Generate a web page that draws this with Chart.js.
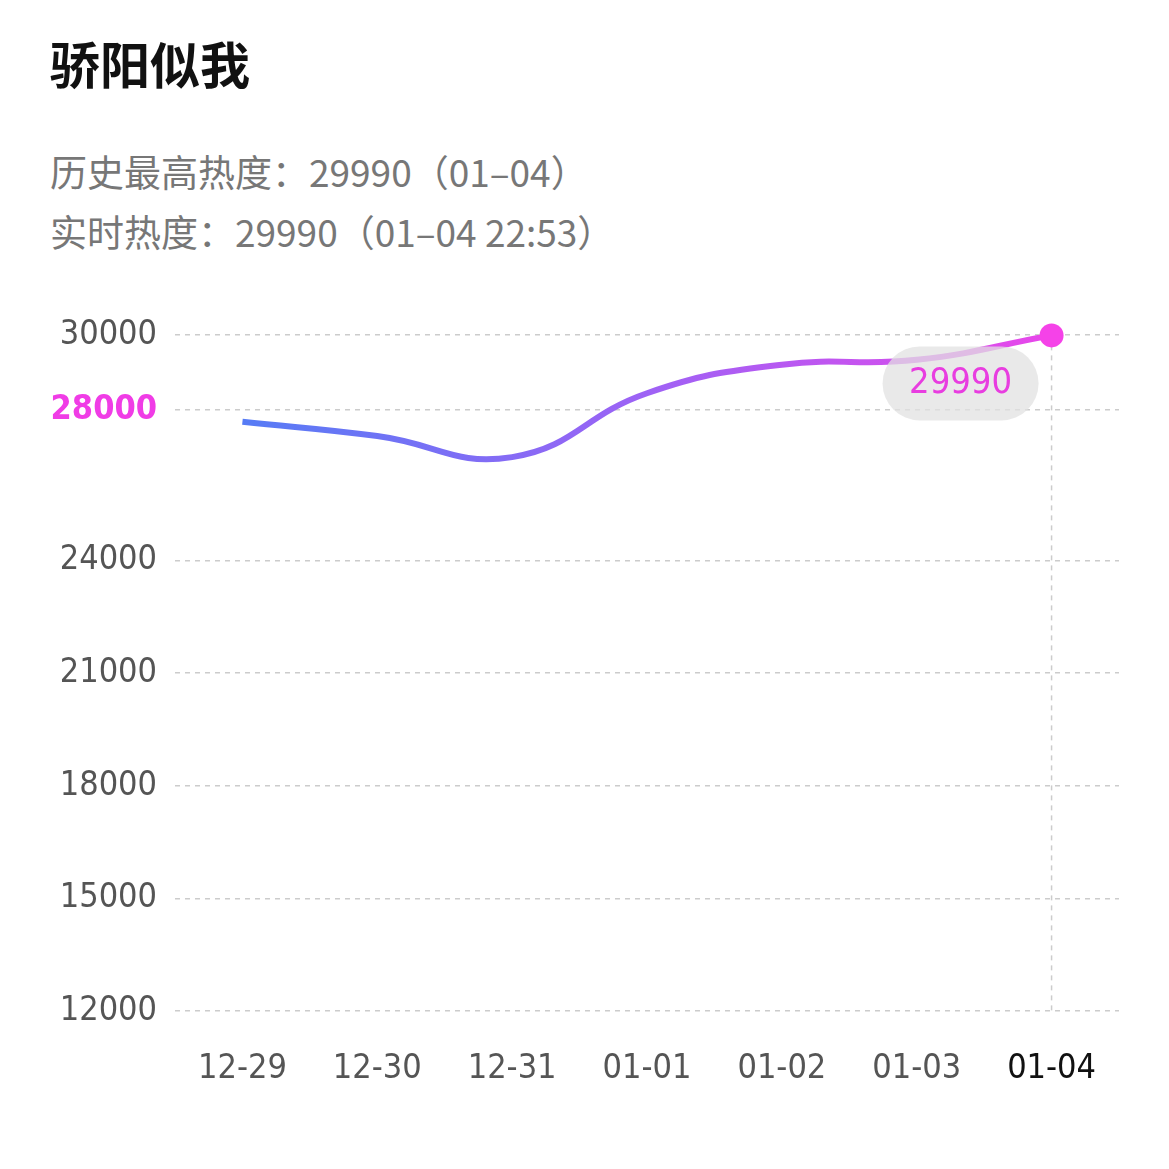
<!DOCTYPE html>
<html><head><meta charset="utf-8">
<script src="https://cdn.jsdelivr.net/npm/chart.js"></script>
<style>
body{margin:0;background:#fff;font-family:"Noto Sans CJK SC","Noto Sans",sans-serif;}
#t{position:absolute;left:50px;top:26px;font-size:50px;font-weight:bold;color:#111;}
.s{position:absolute;left:50px;font-size:37px;color:#777;}
#wrap{position:absolute;left:0;top:290px;width:1169px;height:830px;}
</style></head><body>
<div id="t">骄阳似我</div>
<div class="s" style="top:144px">历史最高热度：29990（01–04）</div>
<div class="s" style="top:204px">实时热度：29990（01–04 22:53）</div>
<div id="wrap"><canvas id="c"></canvas></div>
<script>
const categories=["12-29","12-30","12-31","01-01","01-02","01-03","01-04"];
const values=[27690,27310,26750,28450,29210,29340,29990];
const tickValues=[12000,15000,18000,21000,24000,28000,30000];
const FONT='"DejaVu Sans Condensed",sans-serif';
const ctx=document.getElementById('c');
const extra={id:'extra',afterDatasetsDraw(ch){
 const c=ch.ctx,x=ch.scales.x,y=ch.scales.y;
 const px=x.getPixelForValue(6),py=y.getPixelForValue(values[6]);
 c.save();c.setLineDash([5,5]);c.strokeStyle='#ccc';c.lineWidth=1.5;
 c.beginPath();c.moveTo(px,py);c.lineTo(px,y.bottom);c.stroke();c.setLineDash([]);
 c.fillStyle='#f542e8';c.beginPath();c.arc(px,py,12,0,7);c.fill();
 const bx=px-91,by=py+48;c.fillStyle='rgba(225,225,225,0.75)';
 c.beginPath();c.roundRect(bx-78,by-37,156,74,37);c.fill();
 c.fillStyle='#e83de0';c.font='36px '+FONT;c.textAlign='center';c.textBaseline='middle';
 c.fillText(String(values[6]),bx,by);c.restore();}};
new Chart(ctx,{type:'line',data:{labels:categories,datasets:[{data:values,tension:0.45,borderWidth:6,pointRadius:0,
 borderColor:(cx)=>{const a=cx.chart.chartArea;if(!a)return '#8a6ff5';const g=cx.chart.ctx.createLinearGradient(a.left,0,a.right,0);g.addColorStop(0,'#4a80f5');g.addColorStop(0.5,'#9e62f5');g.addColorStop(1,'#f542e8');return g;}}]},
options:{responsive:true,maintainAspectRatio:false,animation:false,layout:{padding:{top:45,right:50,left:0,bottom:0}},
plugins:{legend:{display:false},tooltip:{enabled:false}},
scales:{x:{offset:true,grid:{display:false},border:{display:false},ticks:{padding:30,font:{size:34,family:FONT},color:(c)=>c.index===6?'#111':'#555'}},
y:{min:12000,max:30000,afterFit:(s)=>{s.width=175;},afterBuildTicks:(s)=>{s.ticks=tickValues.map(v=>({value:v}));},border:{display:false,dash:[5,5]},
 grid:{color:'#ccc',lineWidth:1.5,drawTicks:false},
 ticks:{padding:18,callback:(v)=>String(v),font:(c)=>({size:34,family:FONT,weight:c.tick&&c.tick.value===28000?'bold':'normal'}),color:(c)=>c.tick.value===28000?'#f03ce6':'#555'}}}},
plugins:[extra]});
</script></body></html>
